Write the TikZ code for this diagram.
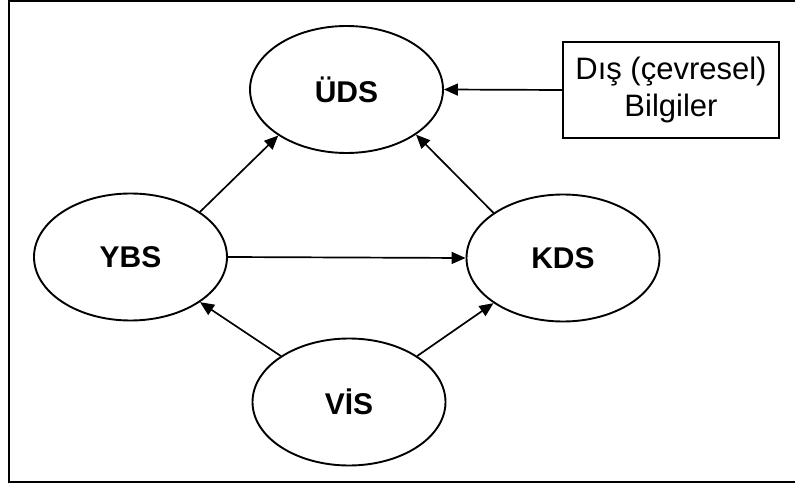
\documentclass[tikz,border=0pt]{standalone}
\usepackage{fontspec}
\setmainfont{Liberation Sans}
\usetikzlibrary{shapes.geometric,arrows.meta}
\tikzset{
  sys/.style={ellipse,draw,line width=1.9pt,minimum width=193pt,minimum height=127pt,inner sep=0pt,
    font=\fontsize{30}{34}\selectfont\bfseries},
  infobox/.style={rectangle,draw,line width=1.9pt,minimum width=216pt,minimum height=96pt,inner sep=0pt,
    align=center,font=\fontsize{31}{37}\selectfont},
  conn/.style={line width=1.7pt,-{Triangle[length=14pt,width=12pt]}},
  frame/.style={line width=2pt}
}
\begin{document}
\begin{tikzpicture}[x=1pt,y=-1pt]
\useasboundingbox (0,0) rectangle (795,486);
\draw[frame] (805,1.5) -- (8.5,1.5) -- (8.5,482) -- (805,482);
\node[sys] (uds) at (346.5,89.5) {ÜDS};
\node[sys] (ybs) at (130.5,257) {YBS};
\node[sys] (kds) at (563,258) {KDS};
\node[sys] (vis) at (349,402) {VİS};
\node[infobox] (dis) at (671,90) {Dış (çevresel)\\Bilgiler};
\draw[conn] (dis.west) -- (uds.east);
\draw[conn] (ybs.33) -- (uds.214);
\draw[conn] (kds.147) -- (uds.-33);
\draw[conn] (ybs.east) -- (kds.west);
\draw[conn] (vis.146) -- (ybs.-33);
\draw[conn] (vis.34) -- (kds.213);
\end{tikzpicture}
\end{document}
